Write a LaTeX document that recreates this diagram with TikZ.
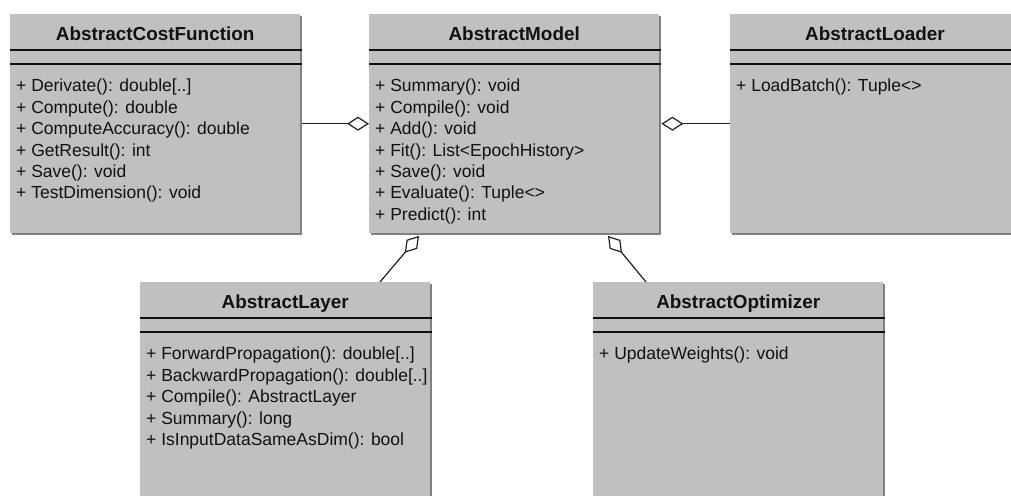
\documentclass[tikz,border=0pt]{standalone}
\usepackage{fontspec}
\setmainfont{Liberation Sans}
\usepackage{tikz}
\usetikzlibrary{positioning, arrows.meta, calc, shadows}
\definecolor{boxgray}{RGB}{192,192,192}
\definecolor{edgegray}{RGB}{128,128,128}
\definecolor{ink}{RGB}{17,17,17}
\definecolor{wire}{RGB}{34,34,34}
\tikzset{
  classbox/.style ={rectangle, fill=boxgray, draw=none, anchor=north west,
                    minimum width=290pt, minimum height=219pt, inner sep=0pt,
                    drop shadow={shadow xshift=2pt, shadow yshift=-2pt, fill=edgegray, opacity=1}},
  classname/.style={font=\fontsize{18.9}{22}\selectfont\bfseries, color=ink, anchor=base, inner sep=0pt},
  methods/.style  ={font=\fontsize{17.5}{21.4}\selectfont, color=ink, anchor=north west,
                    align=left, inner sep=0pt},
  sepline/.style  ={line width=1.2pt, color=ink},
  aggr/.style     ={-{Diamond[open, length=22pt, width=14pt]}, line width=1.2pt, color=wire},
}

\begin{document}
\begin{tikzpicture}[x=1pt, y=-1pt]
\useasboundingbox (0,0) rectangle (1011,495);
\clip (0,0) rectangle (1011,495);

% top row
\node[classbox] (cost) at (10,14) {};
\node[classbox] (model) at (369,14) {};
\node[classbox, minimum width=300pt] (loader) at (730,14) {};

% bottom row, cut by the page edge
\node[classbox, minimum height=230pt] (layer) at (140,282) {};
\node[classbox, minimum height=230pt] (optim) at (593,282) {};

\node[classname] (costname) at ($(cost.north)+(0,26.5)$) {AbstractCostFunction};
\node[classname] (modelname) at ($(model.north)+(0,26.5)$) {AbstractModel};
\node[classname] (loadername) at ($(loader.north west)+(145,26.5)$) {AbstractLoader};
\node[classname] (layername) at ($(layer.north)+(0,26.5)$) {AbstractLayer};
\node[classname] (optimname) at ($(optim.north)+(0,26.5)$) {AbstractOptimizer};

\foreach \c in {cost, model, layer, optim} {
  \draw[sepline] ($(\c.north west)+(0,36)$) -- ($(\c.north east)+(2,36)$);
  \draw[sepline] ($(\c.north west)+(0,50)$) -- ($(\c.north east)+(2,50)$);
}
\draw[sepline] ($(loader.north west)+(0,36)$) -- ($(loader.north east)+(0,36)$);
\draw[sepline] ($(loader.north west)+(0,50)$) -- ($(loader.north east)+(0,50)$);

\node[methods] (costops) at ($(cost.north west)+(6,65)$)
  {+ Derivate(): double[..]\\+ Compute(): double\\+ ComputeAccuracy(): double\\
   + GetResult(): int\\+ Save(): void\\+ TestDimension(): void};
\node[methods] (modelops) at ($(model.north west)+(6,65)$)
  {+ Summary(): void\\+ Compile(): void\\+ Add(): void\\+ Fit(): List<EpochHistory>\\
   + Save(): void\\+ Evaluate(): Tuple<>\\+ Predict(): int};
\node[methods] (loaderops) at ($(loader.north west)+(6,65)$)
  {+ LoadBatch(): Tuple<>};
\node[methods] (layerops) at ($(layer.north west)+(6,65)$)
  {+ ForwardPropagation(): double[..]\\+ BackwardPropagation(): double[..]\\
   + Compile(): AbstractLayer\\+ Summary(): long\\+ IsInputDataSameAsDim(): bool};
\node[methods] (optimops) at ($(optim.north west)+(6,65)$)
  {+ UpdateWeights(): void};

% aggregations into the model
\draw[aggr] ($(cost.east)+(2,0)$) -- (model.west);
\draw[aggr] (loader.west) -- ($(model.east)+(2,0)$);
\draw[aggr] ($(layer.north west)+(240,0)$) -- ($(model.south west)+(50,2.5)$);
\draw[aggr] ($(optim.north west)+(53,0)$) -- ($(model.south west)+(239,2.5)$);
\end{tikzpicture}
\end{document}
